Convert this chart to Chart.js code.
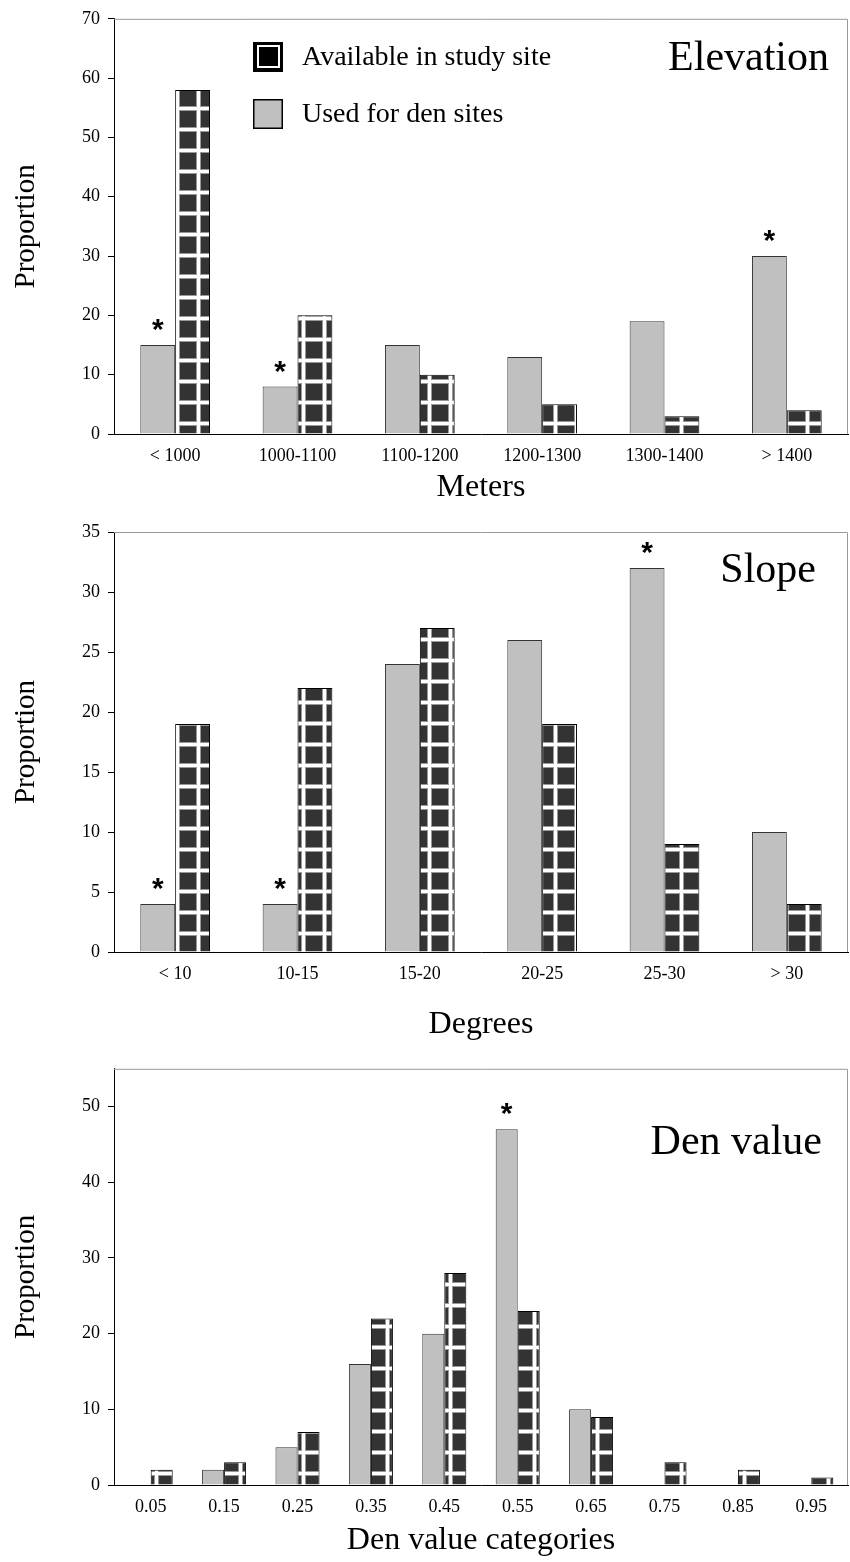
<!DOCTYPE html>
<html>
<head>
<meta charset="utf-8">
<script src="https://cdn.jsdelivr.net/npm/chart.js@4"></script>
<style>
    body { margin: 0; background: #fff; width: 850px; height: 1562px; position: relative; overflow: hidden; }
    .box { position: absolute; left: 0; width: 850px; }
</style>
</head>
<body>
<div class="box" style="top:0;height:510px"><canvas id="elevChart"></canvas></div>
<div class="box" style="top:510px;height:540px"><canvas id="slopeChart"></canvas></div>
<div class="box" style="top:1050px;height:512px"><canvas id="denChart"></canvas></div>
<script>
// Data
const elevLabels = ['< 1000', '1000-1100', '1100-1200', '1200-1300', '1300-1400', '> 1400'];
const elevUsed = [15, 8, 15, 13, 19, 30];
const elevAvail = [58, 20, 10, 5, 3, 4];
const elevStars = [true, true, false, false, false, true];

const slopeLabels = ['< 10', '10-15', '15-20', '20-25', '25-30', '> 30'];
const slopeUsed = [4, 4, 24, 26, 32, 10];
const slopeAvail = [19, 22, 27, 19, 9, 4];
const slopeStars = [true, true, false, false, true, false];

const denLabels = ['0.05', '0.15', '0.25', '0.35', '0.45', '0.55', '0.65', '0.75', '0.85', '0.95'];
const denUsed = [0, 2, 5, 16, 20, 47, 10, 0, 0, 0];
const denAvail = [2, 3, 7, 22, 28, 23, 9, 3, 2, 1];
const denStars = [false, false, false, false, false, true, false, false, false, false];

const legendUsed = 'Used for den sites';
const legendAvail = 'Available in study site';

const SERIF = "'Liberation Serif', 'Times New Roman', serif";
const LIGHT = '#c0c0c0';

// grid pattern for the "available" bars
function makePattern(ctx) {
    const c = document.createElement('canvas');
    c.width = 21; c.height = 21;
    const g = c.getContext('2d');
    g.fillStyle = '#333';
    g.fillRect(0, 0, 21, 21);
    g.fillStyle = '#999';
    g.fillRect(7, 0, 5, 21);
    g.fillRect(0, 1, 21, 5);
    g.fillStyle = '#fff';
    g.fillRect(8, 0, 3, 21);
    g.fillRect(0, 2, 21, 3);
    return ctx.createPattern(c, 'repeat');
}

// frame, in-plot title, stars and (optional) legend
const decorPlugin = {
    id: 'decor',
    afterDatasetsDraw(chart, args, opts) {
        const { ctx, chartArea: a } = chart;
        ctx.save();
        ctx.strokeStyle = '#999';
        ctx.lineWidth = 1;
        ctx.beginPath();
        ctx.moveTo(a.left, a.top + 0.5);
        ctx.lineTo(a.right - 0.5, a.top + 0.5);
        ctx.lineTo(a.right - 0.5, a.bottom);
        ctx.stroke();

        ctx.fillStyle = '#000';
        ctx.font = `42px ${SERIF}`;
        ctx.textAlign = 'right';
        ctx.textBaseline = 'alphabetic';
        ctx.fillText(opts.title, opts.titleX, a.top + opts.titleY);

        // significance stars
        ctx.font = "bold 30px 'Liberation Sans', Arial, sans-serif";
        ctx.textAlign = 'center';
        const meta = chart.getDatasetMeta(0);
        opts.stars.forEach((s, i) => {
            if (!s) return;
            const bar = meta.data[i];
            ctx.fillText('*', bar.x, bar.y - 23 + 17);
        });

        if (opts.legend) {
            const x = 253;
            // available
            ctx.fillStyle = '#000';
            ctx.fillRect(x, 42, 30, 30);
            ctx.strokeStyle = '#fff';
            ctx.lineWidth = 2;
            ctx.strokeRect(x + 5, 46, 21, 21);
            ctx.fillStyle = '#000';
            ctx.fillRect(x + 7, 48, 17, 17);
            // used
            ctx.fillStyle = LIGHT;
            ctx.fillRect(x, 99, 30, 30);
            ctx.strokeStyle = '#000';
            ctx.lineWidth = 1.5;
            ctx.strokeRect(x + 0.75, 99.75, 28.5, 28.5);

            ctx.fillStyle = '#000';
            ctx.font = `28px ${SERIF}`;
            ctx.textAlign = 'left';
            ctx.textBaseline = 'middle';
            ctx.fillText(legendAvail, 302, 58);
            ctx.fillText(legendUsed, 302, 115);
        }
        ctx.restore();
    }
};

function makeChart(id, c) {
    const ctx = document.getElementById(id).getContext('2d');
    return new Chart(ctx, {
        type: 'bar',
        data: {
            labels: c.labels,
            datasets: [
                {
                    label: legendUsed,
                    data: c.used,
                    backgroundColor: LIGHT,
                    borderColor: '#333',
                    borderWidth: ctx => ctx.raw === 0 ? 0 : 1,
                    categoryPercentage: c.catPct,
                    barPercentage: 1.0
                },
                {
                    label: legendAvail,
                    data: c.avail,
                    backgroundColor: makePattern(ctx),
                    borderColor: '#000',
                    borderWidth: 1,
                    categoryPercentage: c.catPct,
                    barPercentage: 1.0
                }
            ]
        },
        options: {
            responsive: true,
            maintainAspectRatio: false,
            animation: false,
            layout: { padding: { top: c.padTop, right: 2, left: 0, bottom: 0 } },
            plugins: {
                legend: { display: false },
                tooltip: { enabled: false },
                decor: { title: c.title, titleX: c.titleX, titleY: c.titleY, stars: c.stars, legend: c.legend }
            },
            scales: {
                x: {
                    grid: { display: false, drawTicks: false },
                    border: { display: true, color: '#000', width: 1 },
                    ticks: {
                        color: '#000',
                        font: { family: SERIF, size: 18 },
                        padding: 11,
                        maxRotation: 0,
                        autoSkip: false
                    },
                    title: {
                        display: true,
                        text: c.xTitle,
                        color: '#000',
                        font: { family: SERIF, size: 32 },
                        padding: { top: 0, bottom: c.xTitlePad }
                    },
                    afterFit: s => { s.height = c.xHeight; }
                },
                y: {
                    min: 0,
                    max: c.yMax,
                    grid: { drawOnChartArea: false, drawTicks: true, tickLength: 6, color: '#000' },
                    border: { display: true, color: '#000', width: 1 },
                    ticks: {
                        stepSize: c.yStep,
                        color: '#000',
                        font: { family: SERIF, size: 18 },
                        padding: 8
                    },
                    afterBuildTicks: s => { s.ticks = s.ticks.filter(t => t.value <= c.yTickMax); },
                    title: {
                        display: true,
                        text: 'Proportion',
                        color: '#000',
                        font: { family: SERIF, size: 29 },
                        padding: { top: 9, bottom: 0 }
                    },
                    afterFit: s => { s.width = 114; }
                }
            }
        },
        plugins: [decorPlugin]
    });
}

makeChart('elevChart', {
    labels: elevLabels, used: elevUsed, avail: elevAvail, stars: elevStars,
    title: 'Elevation', titleX: 829, titleY: 51, legend: true,
    xTitle: 'Meters', xHeight: 76, xTitlePad: 3,
    yMax: 70, yStep: 10, yTickMax: 70, padTop: 14, catPct: 0.57
});

makeChart('slopeChart', {
    labels: slopeLabels, used: slopeUsed, avail: slopeAvail, stars: slopeStars,
    title: 'Slope', titleX: 816, titleY: 50, legend: false,
    xTitle: 'Degrees', xHeight: 98, xTitlePad: 6,
    yMax: 35, yStep: 5, yTickMax: 35, padTop: 22, catPct: 0.57
});

makeChart('denChart', {
    labels: denLabels, used: denUsed, avail: denAvail, stars: denStars,
    title: 'Den value', titleX: 822, titleY: 85, legend: false,
    xTitle: 'Den value categories', xHeight: 77, xTitlePad: 2,
    yMax: 55, yStep: 10, yTickMax: 50, padTop: 14, catPct: 0.6
});
</script>
</body>
</html>
